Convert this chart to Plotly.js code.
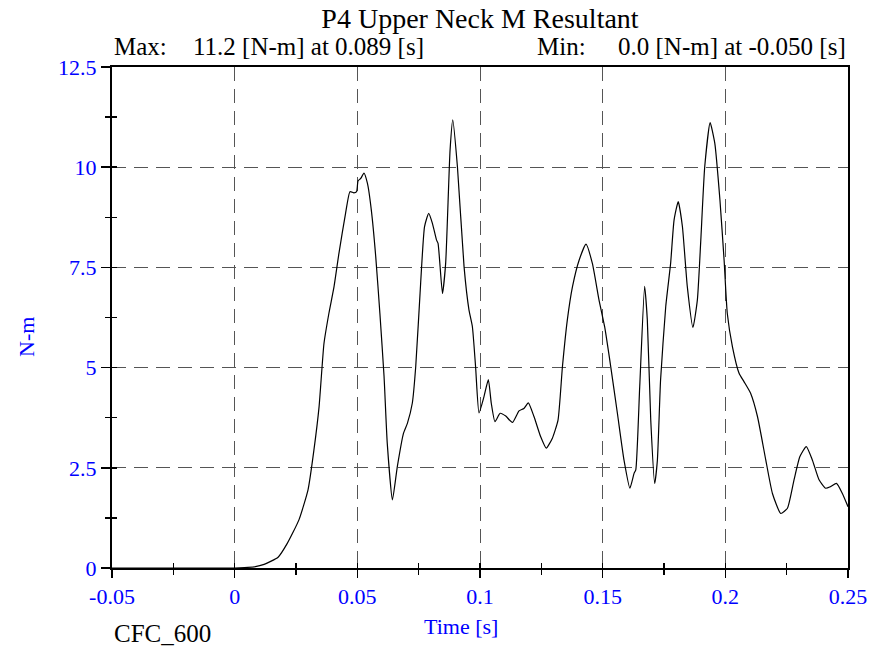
<!DOCTYPE html>
<html>
<head>
<meta charset="utf-8">
<script src="https://cdn.plot.ly/plotly-3.0.1.min.js"></script>
<style>html,body{margin:0;padding:0;background:#fff;}#chart{width:888px;height:647px;}</style>
</head>
<body>
<div id="chart"></div>
<script>
// Time [s]
var time = [-0.05, 0, 0.004, 0.008, 0.012, 0.0177, 0.0215, 0.0262, 0.0299, 0.0323, 0.0344, 0.0364, 0.0384, 0.0405, 0.0425, 0.0452, 0.047, 0.0486, 0.0497, 0.0503, 0.0514, 0.0527, 0.0541, 0.0557, 0.0575, 0.0592, 0.0609, 0.0622, 0.0643, 0.0663, 0.0688, 0.0704, 0.0724, 0.0738, 0.0758, 0.0774, 0.0791, 0.0806, 0.0823, 0.0829, 0.0847, 0.086, 0.0878, 0.0889, 0.0908, 0.0935, 0.0955, 0.0969, 0.0982, 0.0996, 0.1016, 0.1034, 0.1046, 0.1061, 0.1082, 0.1105, 0.1132, 0.1159, 0.1179, 0.1197, 0.122, 0.1247, 0.127, 0.1295, 0.1318, 0.1336, 0.1356, 0.1377, 0.1404, 0.1432, 0.1458, 0.1485, 0.1508, 0.1533, 0.156, 0.1587, 0.1611, 0.1628, 0.1635, 0.1651, 0.1671, 0.1682, 0.1696, 0.1712, 0.1723, 0.1736, 0.1757, 0.1777, 0.1791, 0.1808, 0.1825, 0.1845, 0.1868, 0.1886, 0.19, 0.1916, 0.1938, 0.1957, 0.1978, 0.1995, 0.2008, 0.2029, 0.2056, 0.2076, 0.2103, 0.2131, 0.2165, 0.2192, 0.2226, 0.2253, 0.228, 0.2304, 0.233, 0.2355, 0.2382, 0.2409, 0.2429, 0.2453, 0.2477, 0.25];
// Upper neck moment resultant [N-m]
var moment = [0, 0, 0.01, 0.03, 0.09, 0.27, 0.62, 1.2, 1.95, 2.94, 4.02, 5.6, 6.35, 7.02, 7.85, 8.85, 9.39, 9.36, 9.39, 9.66, 9.72, 9.85, 9.6, 8.93, 7.77, 6.35, 4.77, 3.11, 1.70, 2.53, 3.36, 3.61, 4.11, 5.02, 7.10, 8.52, 8.85, 8.60, 8.18, 8.10, 6.85, 7.6, 10.43, 11.18, 10.01, 7.52, 6.44, 6.02, 5.02, 3.87, 4.27, 4.70, 4.11, 3.65, 3.86, 3.79, 3.63, 3.92, 3.98, 4.12, 3.78, 3.28, 2.99, 3.24, 3.69, 5.02, 6.19, 7.02, 7.68, 8.08, 7.60, 6.69, 6.02, 5.02, 3.86, 2.69, 1.99, 2.36, 2.45, 4.52, 7.03, 6.19, 3.69, 2.11, 2.69, 4.69, 6.52, 7.60, 8.68, 9.14, 8.52, 7.02, 6.0, 6.69, 8.18, 10.01, 11.11, 10.6, 9.18, 7.68, 6.35, 5.52, 4.86, 4.65, 4.36, 3.78, 2.69, 1.86, 1.36, 1.49, 2.2, 2.78, 3.03, 2.69, 2.20, 1.99, 2.03, 2.11, 1.86, 1.53];

var xTickVals = [-0.05, 0, 0.05, 0.1, 0.15, 0.2, 0.25];
var xTickText = ["-0.05", "0", "0.05", "0.1", "0.15", "0.2", "0.25"];
var yTickVals = [0, 2.5, 5, 7.5, 10, 12.5];
var yTickText = ["0", "2.5", "5", "7.5", "10", "12.5"];

var titleText = "P4 Upper Neck M Resultant";
var maxLabel = "Max:";
var maxText = "11.2 [N-m] at 0.089 [s]";
var minLabel = "Min:";
var minText = "0.0 [N-m] at -0.050 [s]";
var xTitle = "Time [s]";
var yTitle = "N-m";
var filterText = "CFC_600";

var serif = "Liberation Serif, Times New Roman, serif";
var blue = "#0000ff";

var traces = [
  {x: time, y: moment, type: "scatter", mode: "lines",
   line: {color: "#000", width: 1.2, shape: "spline", smoothing: 0.5},
   hoverinfo: "skip", showlegend: false},
  {x: time, y: moment, type: "scatter", mode: "lines", xaxis: "x2", yaxis: "y2",
   line: {color: "rgba(0,0,0,0)", width: 0}, hoverinfo: "skip", showlegend: false}
];

var xr = [-0.05, 0.25], yr = [0, 12.5];
var layout = {
  width: 888, height: 647,
  margin: {l: 112, r: 40, t: 67, b: 79, pad: 0},
  paper_bgcolor: "#fff", plot_bgcolor: "#fff",
  font: {family: serif, color: "#000"},
  showlegend: false,
  title: {text: titleText, font: {family: serif, size: 28, color: "#000"},
          x: 0.5, xref: "paper", xanchor: "center", y: 0.972, yref: "container", yanchor: "middle"},
  xaxis: {range: xr, tickmode: "array", tickvals: xTickVals, ticktext: xTickText,
          ticks: "outside", ticklen: 8, tickwidth: 1.5, tickcolor: "#000",
          minor: {dtick: 0.025, tick0: 0, ticks: "outside", ticklen: 5, tickwidth: 1.5, tickcolor: "#000", showgrid: false},
          showline: true, linecolor: "#000", linewidth: 2, mirror: true,
          showgrid: true, gridcolor: "#555", gridwidth: 1, griddash: "14px,8px",
          zeroline: false, tickfont: {family: serif, size: 22, color: blue}, fixedrange: true},
  yaxis: {range: yr, tickmode: "array", tickvals: yTickVals, ticktext: yTickText,
          ticks: "outside", ticklen: 9, tickwidth: 1.5, tickcolor: "#000",
          minor: {dtick: 1.25, tick0: 0, ticks: "outside", ticklen: 5, tickwidth: 1.5, tickcolor: "#000", showgrid: false},
          showline: true, linecolor: "#000", linewidth: 2, mirror: true,
          showgrid: true, gridcolor: "#555", gridwidth: 1, griddash: "14px,8px",
          zeroline: false, tickfont: {family: serif, size: 22, color: blue}, fixedrange: true},
  xaxis2: {range: xr, overlaying: "x", anchor: "y2", side: "bottom", showline: false, showgrid: false, zeroline: false,
           tickmode: "array", tickvals: xTickVals, ticks: "inside", ticklen: 5, tickwidth: 1.5, tickcolor: "#000",
           showticklabels: false,
           minor: {dtick: 0.025, tick0: 0, ticks: "inside", ticklen: 5, tickwidth: 1.5, tickcolor: "#000", showgrid: false},
           fixedrange: true},
  yaxis2: {range: yr, overlaying: "y", anchor: "x2", side: "left", showline: false, showgrid: false, zeroline: false,
           tickmode: "array", tickvals: yTickVals, ticks: "inside", ticklen: 5, tickwidth: 1.5, tickcolor: "#000",
           showticklabels: false,
           minor: {dtick: 1.25, tick0: 0, ticks: "inside", ticklen: 5, tickwidth: 1.5, tickcolor: "#000", showgrid: false},
           fixedrange: true},
  annotations: [
    {text: maxLabel, xref: "paper", yref: "paper", x: 0, y: 1.04, xanchor: "left", yanchor: "middle",
     showarrow: false, font: {family: serif, size: 25, color: "#000"}},
    {text: maxText, xref: "paper", yref: "paper", x: (191 - 112) / 736, y: 1.04, xanchor: "left", yanchor: "middle",
     showarrow: false, font: {family: serif, size: 25, color: "#000"}},
    {text: minLabel, xref: "paper", yref: "paper", x: (535 - 112) / 736, y: 1.04, xanchor: "left", yanchor: "middle",
     showarrow: false, font: {family: serif, size: 25, color: "#000"}},
    {text: minText, xref: "paper", yref: "paper", x: 1, y: 1.04, xanchor: "right", yanchor: "middle",
     showarrow: false, font: {family: serif, size: 25, color: "#000"}},
    {text: xTitle, xref: "paper", yref: "paper", x: (461 - 112) / 736, y: -(626 - 568) / 501, xanchor: "center", yanchor: "middle",
     showarrow: false, font: {family: serif, size: 22, color: blue}},
    {text: yTitle, xref: "paper", yref: "paper", x: (26 - 112) / 736, y: (568 - 337) / 501, xanchor: "center", yanchor: "middle",
     textangle: -90, showarrow: false, font: {family: serif, size: 22, color: blue}},
    {text: filterText, xref: "paper", yref: "paper", x: 0, y: -(633 - 568) / 501, xanchor: "left", yanchor: "middle",
     showarrow: false, font: {family: serif, size: 25, color: "#000"}}
  ]
};

Plotly.newPlot("chart", traces, layout, {staticPlot: true, displayModeBar: false});
</script>
</body>
</html>
